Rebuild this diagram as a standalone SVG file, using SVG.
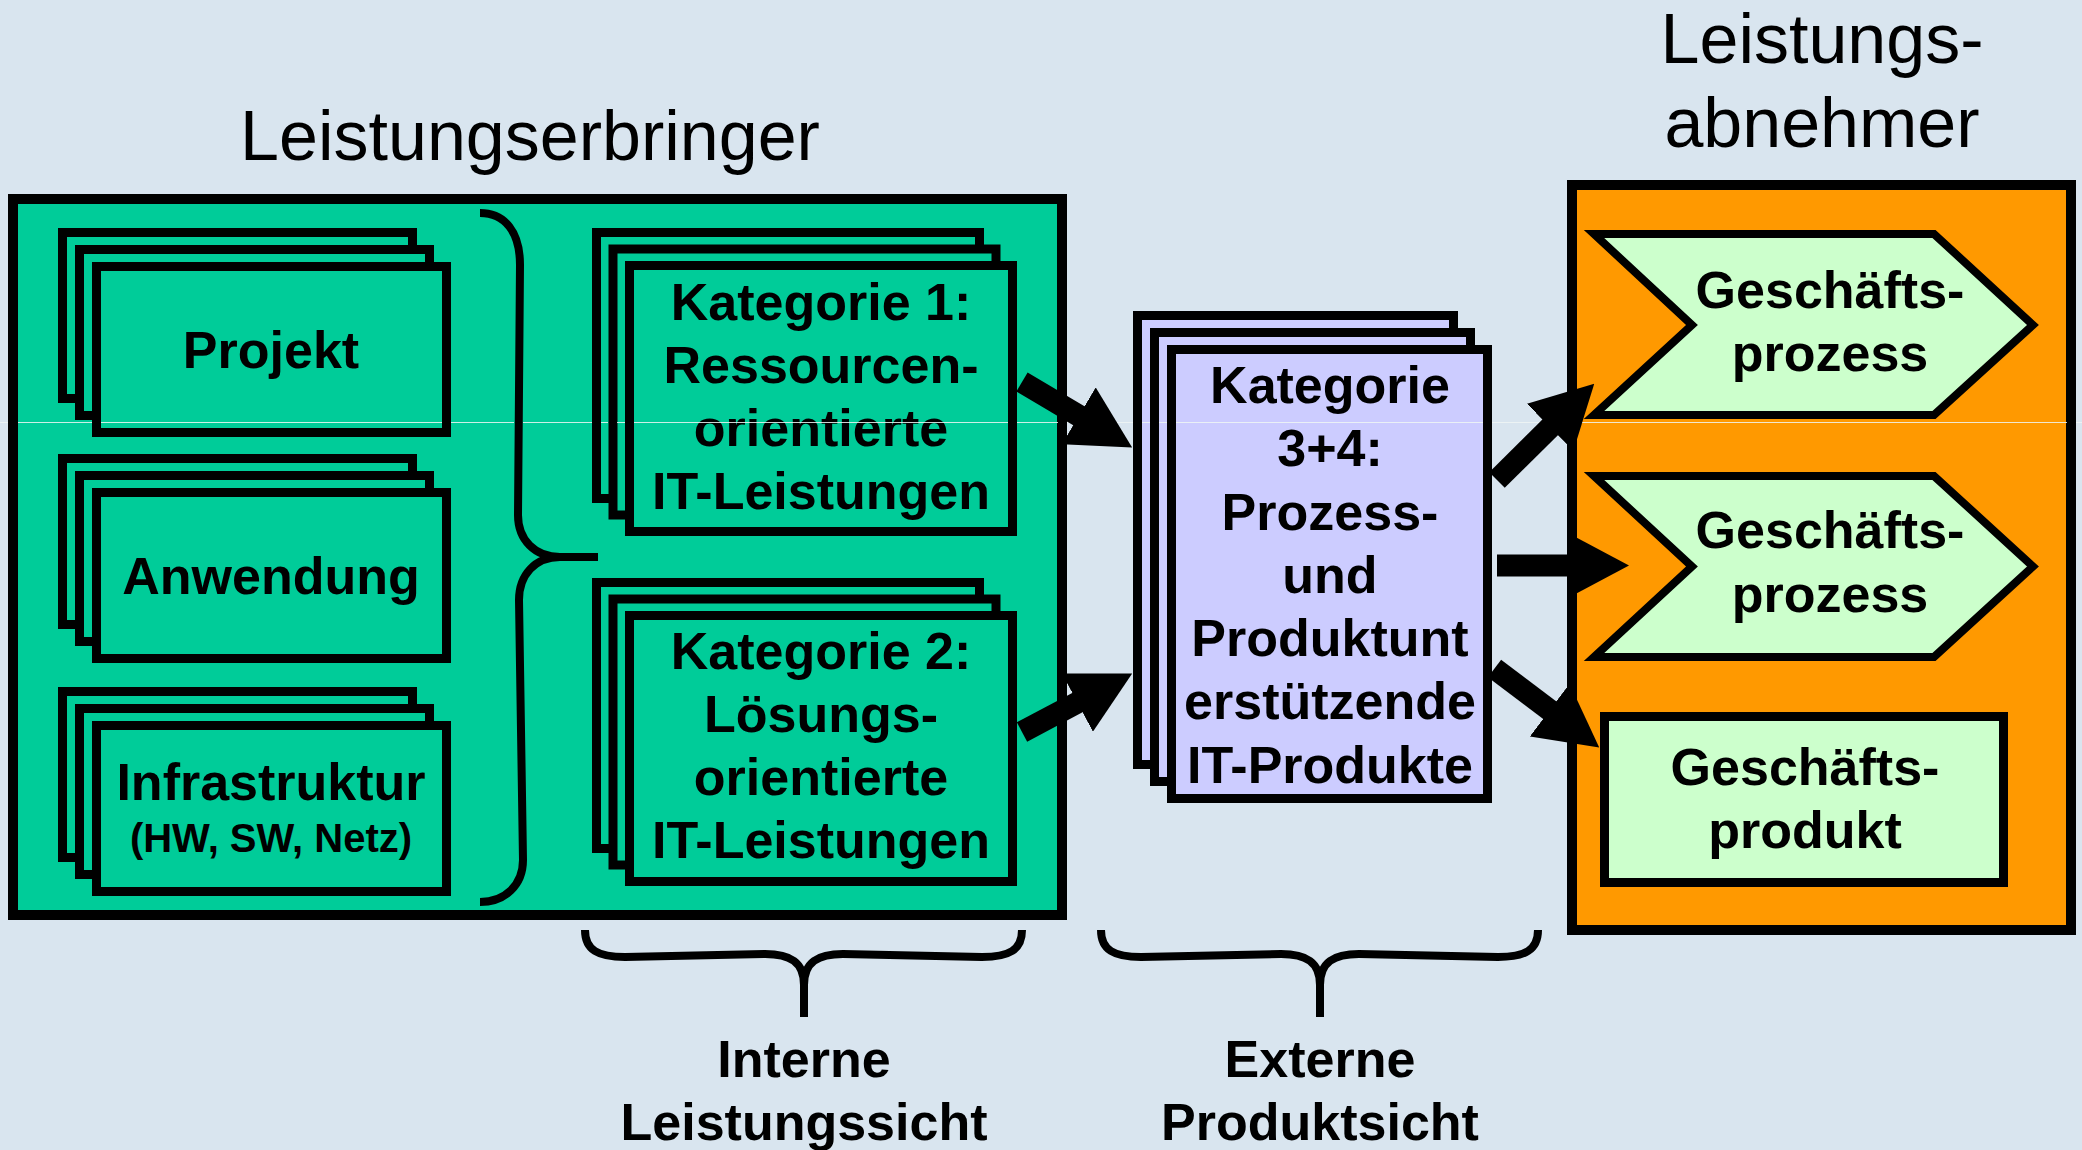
<svg xmlns="http://www.w3.org/2000/svg" xmlns:xlink="http://www.w3.org/1999/xlink" width="2082" height="1150" viewBox="0 0 2082 1150">
<defs>
<style>
.t{font-family:"Liberation Sans",Arial,Helvetica,sans-serif;fill:#000;text-anchor:middle}
.b{font-weight:bold;font-size:52px}
.h{font-size:70px}
.s{font-weight:bold;font-size:40px}
.bx{stroke:#000;stroke-width:9}
.ob{stroke:#000;stroke-width:10}
.br{fill:none;stroke:#000;stroke-width:8}
.ar{fill:none;stroke:#000;stroke-width:22;stroke-linecap:butt;marker-end:url(#head)}
</style>
<marker id="head" markerUnits="userSpaceOnUse" viewBox="0 -33 62 66" markerWidth="62" markerHeight="66" refX="1" refY="0" orient="auto">
<path d="M0,-33 L62,0 L0,33 Z" fill="#000"/>
</marker>
<g id="stackS" class="bx" fill="#00CC99">
<rect x="4.5" y="4.5" width="350" height="166"/>
<rect x="21.5" y="21.5" width="350" height="166"/>
<rect x="38.5" y="38.5" width="350" height="166"/>
</g>
<g id="stackK" class="bx" fill="#00CC99">
<rect x="4.5" y="4.5" width="383" height="266"/>
<rect x="21" y="21" width="383" height="266"/>
<rect x="37.5" y="37.5" width="383" height="266"/>
</g>
<g id="stackL" class="bx" fill="#CCCCFF">
<rect x="4.5" y="4.5" width="316" height="449"/>
<rect x="21.5" y="21.5" width="316" height="449"/>
<rect x="38.5" y="38.5" width="316" height="449"/>
</g>
</defs>

<rect x="0" y="0" width="2082" height="1150" fill="#D9E5EF"/>

<g id="leistungserbringer">
<text class="t h" x="530" y="160">Leistungserbringer</text>
<rect class="ob" x="13" y="199" width="1049" height="716" fill="#00CC99"/>
</g>

<g id="projekt">
<use xlink:href="#stackS" x="58" y="228"/>
<text class="t b" x="271" y="368">Projekt</text>
</g>

<g id="anwendung">
<use xlink:href="#stackS" x="58" y="454"/>
<text class="t b" x="271" y="594">Anwendung</text>
</g>

<g id="infrastruktur">
<use xlink:href="#stackS" x="58" y="687"/>
<text class="t b" x="271" y="800">Infrastruktur</text>
<text class="t s" x="271" y="852">(HW, SW, Netz)</text>
</g>

<g id="brace-left">
<path class="br" d="M480,213 C505,213 520,232 520,265 L518,515 C518,540 535,557 560,557 L598,557 M560,557 C535,557 519,575 519,600 L523,860 C523,885 505,902 480,902"/>
</g>

<g id="kategorie1">
<use xlink:href="#stackK" x="592" y="228"/>
<text class="t b" x="821" y="320">Kategorie 1:</text>
<text class="t b" x="821" y="383">Ressourcen-</text>
<text class="t b" x="821" y="446">orientierte</text>
<text class="t b" x="821" y="509">IT-Leistungen</text>
</g>

<g id="kategorie2">
<use xlink:href="#stackK" x="592" y="578"/>
<text class="t b" x="821" y="669">Kategorie 2:</text>
<text class="t b" x="821" y="732">Lösungs-</text>
<text class="t b" x="821" y="795">orientierte</text>
<text class="t b" x="821" y="858">IT-Leistungen</text>
</g>

<g id="kategorie34">
<use xlink:href="#stackL" x="1133" y="311"/>
<text class="t b" x="1330" y="403">Kategorie</text>
<text class="t b" x="1330" y="466">3+4:</text>
<text class="t b" x="1330" y="530">Prozess-</text>
<text class="t b" x="1330" y="593">und</text>
<text class="t b" x="1330" y="656">Produktunt</text>
<text class="t b" x="1330" y="719">erstützende</text>
<text class="t b" x="1330" y="783">IT-Produkte</text>
</g>

<g id="leistungsabnehmer">
<text class="t h" x="1822" y="63">Leistungs-</text>
<text class="t h" x="1822" y="147">abnehmer</text>
<rect class="ob" x="1572" y="185" width="499" height="745" fill="#FF9900"/>
</g>

<g id="geschaeftsprozess1">
<polygon points="1594,234 1934,234 2033,325 1934,415 1594,415 1692,325" fill="#CCFFCC" stroke="#000" stroke-width="8" stroke-linejoin="miter"/>
<text class="t b" x="1830" y="308">Geschäfts-</text>
<text class="t b" x="1830" y="371">prozess</text>
</g>

<g id="geschaeftsprozess2">
<polygon points="1594,476 1934,476 2033,566.5 1934,657 1594,657 1692,566.5" fill="#CCFFCC" stroke="#000" stroke-width="8" stroke-linejoin="miter"/>
<text class="t b" x="1830" y="548">Geschäfts-</text>
<text class="t b" x="1830" y="612">prozess</text>
</g>

<g id="geschaeftsprodukt">
<rect class="bx" x="1604.5" y="716.5" width="399" height="166" fill="#CCFFCC"/>
<text class="t b" x="1805" y="785">Geschäfts-</text>
<text class="t b" x="1805" y="848">produkt</text>
</g>

<path id="seam" d="M0,422.5 H8 M18,422.5 H92 M101,422.5 H442 M451,422.5 H514 M523,422.5 H592 M601,422.5 H608 M617,422.5 H625 M634,422.5 H1008 M1017,422.5 H1058 M1067,422.5 H1133 M1142,422.5 H1150 M1159,422.5 H1167 M1176,422.5 H1483 M1492,422.5 H1567 M1577,422.5 H2067 M2076,422.5 H2082" fill="none" stroke="#EEF6F4" stroke-width="1" opacity="0.85"/>

<g id="connectors">
<line class="ar" x1="1022" y1="382" x2="1079.7" y2="416.3"/>
<line class="ar" x1="1022" y1="732" x2="1078.3" y2="702.1"/>
<line class="ar" x1="1497" y1="480" x2="1550.9" y2="426.6"/>
<line class="ar" x1="1497" y1="565.5" x2="1568" y2="565.5"/>
<line class="ar" x1="1494.5" y1="668.5" x2="1550.5" y2="710.7"/>
</g>

<g id="interne-leistungssicht">
<path class="br" d="M585,930 C585,950 598,957 625,957 L765,954 C790,954 804,962 804,985 L804,1017 M804,985 C804,962 818,954 843,954 L982,957 C1009,957 1022,950 1022,930"/>
<text class="t b" x="804" y="1077">Interne</text>
<text class="t b" x="804" y="1140">Leistungssicht</text>
</g>

<g id="externe-produktsicht">
<path class="br" d="M1101,930 C1101,950 1114,957 1141,957 L1281,954 C1306,954 1320,962 1320,985 L1320,1017 M1320,985 C1320,962 1334,954 1359,954 L1498,957 C1525,957 1538,950 1538,930"/>
<text class="t b" x="1320" y="1077">Externe</text>
<text class="t b" x="1320" y="1140">Produktsicht</text>
</g>
</svg>
